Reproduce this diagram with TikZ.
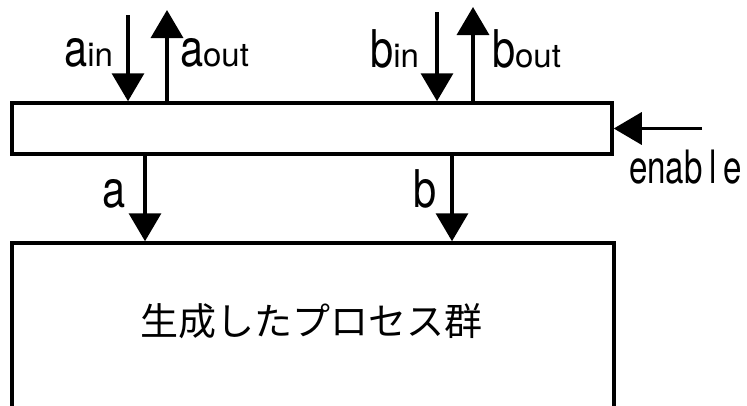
\documentclass[tikz,border=0pt]{standalone}
\usepackage{fontspec}
\usetikzlibrary{arrows.meta}
\newfontfamily\labfont[FakeStretch=0.8]{TeX Gyre Heros}
\newfontfamily\subfont{TeX Gyre Heros}
\newfontfamily\enfont[FakeStretch=0.72]{TeX Gyre Heros}
\newfontfamily\jpfont{Noto Sans CJK JP}
\newcommand{\biglab}[1]{{\labfont\fontsize{52}{52}\selectfont #1}}
\newcommand{\smlab}[1]{{\subfont\fontsize{33}{33}\selectfont #1}}
\tikzset{
  boxstyle/.style={draw=black, line width=3.5pt, inner sep=0pt, fill=white},
  arr/.style={line width=3.5pt, -{Triangle[length=28pt,width=32pt]}},
  lab/.style={inner sep=0pt, outer sep=0pt}
}
\begin{document}
\begin{tikzpicture}[x=1pt,y=1pt]
\useasboundingbox (0,0) rectangle (747,-405);
\clip (0,0) rectangle (747,-405);
\fill[white] (0,0) rectangle (747,-405);
\node[boxstyle, minimum width=600pt, minimum height=51pt] (ctrl) at (312,-128.5) {};
\node[boxstyle, minimum width=602pt, minimum height=200pt] (low) at (313,-343) {};
\node[lab] (proc) at (311,-321) {\jpfont\fontsize{38}{38}\selectfont 生成したプロセス群};
% input/output coordinates
\coordinate (ain) at (128,-15);
\coordinate (aout) at (167,-10);
\coordinate (bin) at (437,-12);
\coordinate (bout) at (473,-7);
\coordinate (en) at (702,-128.5);
\draw[arr] (ain) -- (ain |- ctrl.north);
\draw[arr] (aout |- ctrl.north) -- (aout);
\draw[arr] (bin) -- (bin |- ctrl.north);
\draw[arr] (bout |- ctrl.north) -- (bout);
\draw[arr] (en) -- (ctrl.east);
\coordinate (adown) at (145,0);
\coordinate (bdown) at (452,0);
\draw[arr] (adown |- ctrl.south) -- (adown |- low.north);
\draw[arr] (bdown |- ctrl.south) -- (bdown |- low.north);
% labels
\node[lab, anchor=base east] (lain) at (113,-66) {\biglab{a}\smlab{in}};
\node[lab, anchor=base west] (laout) at (180,-66) {\biglab{a}\smlab{out}};
\node[lab, anchor=base east] (lbin) at (419,-67) {\biglab{b}\smlab{in}};
\node[lab, anchor=base west] (lbout) at (492,-67) {\biglab{b}\smlab{out}};
\node[lab, anchor=base east] (la) at (126,-207) {\biglab{a}};
\node[lab, anchor=base east] (lb) at (437,-207) {\biglab{b}};
\node[lab, anchor=base west] (len) at (629,-183) {\enfont\fontsize{46}{46}\selectfont enab\hspace{7pt}l\hspace{7pt}e};
\end{tikzpicture}
\end{document}
